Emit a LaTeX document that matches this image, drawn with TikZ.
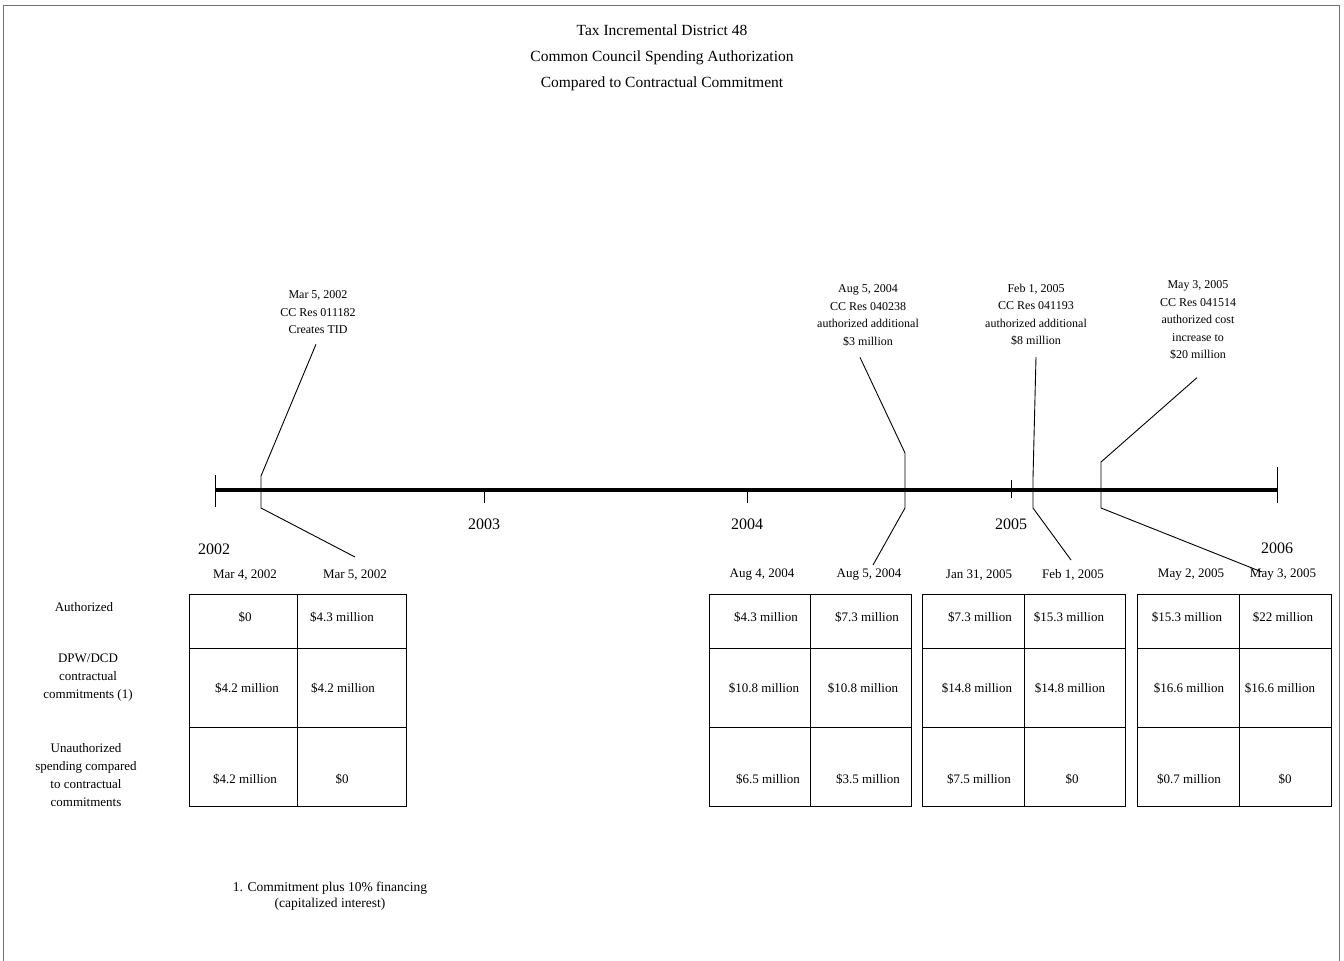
\documentclass[tikz,border=0pt]{standalone}
\usepackage{fontspec}
\setmainfont{Liberation Serif}
\usetikzlibrary{positioning}

\begin{document}
\begin{tikzpicture}[
    x=1pt, y=-1pt,
    small/.style={font=\fontsize{12}{17.5}\selectfont, align=center, inner sep=0pt},
    cell/.style={font=\fontsize{13}{18}\selectfont, align=center, inner sep=0pt},
    year/.style={font=\fontsize{16}{18}\selectfont, inner sep=0pt},
    lead/.style={line width=0.9pt},
    tick/.style={line width=1pt},
    grid/.style={line width=0.85pt},
    axis/.style={line width=3.6pt}
]
    \useasboundingbox (0,0) rectangle (1344,961);
    % Frame
    \draw[black!55, line width=0.8pt] (3,961) -- (3,5) -- (1339,5) -- (1339,961);

    % Title
    \node[font=\fontsize{15.5}{26}\selectfont, align=center] (title) at (662,58)
        {Tax Incremental District 48\\Common Council Spending Authorization\\Compared to Contractual Commitment};

    % Timeline
    \coordinate (t0) at (215,490);
    \coordinate (t1) at (1277,490);
    \draw[tick] (215,475) -- (215,507);
    \draw[tick] (1277,467) -- (1277,503);
    \draw[tick] (484,490) -- (484,503);
    \draw[tick] (747,490) -- (747,503);
    \draw[tick] (1011,480) -- (1011,498);

    \node[year] (y2002) at (214,549) {2002};
    \node[year] (y2003) at (484,524) {2003};
    \node[year] (y2004) at (747,524) {2004};
    \node[year] (y2005) at (1011,524) {2005};
    \node[year] (y2006) at (1277,548) {2006};

    % Resolutions
    \node[small] (c1) at (318,312.5) {Mar 5, 2002\\CC Res 011182\\Creates TID};
    \node[small] (c2) at (868,315.5) {Aug 5, 2004\\CC Res 040238\\authorized additional\\\$3 million};
    \node[small] (c3) at (1036,315) {Feb 1, 2005\\CC Res 041193\\authorized additional\\\$8 million};
    \node[small] (c4) at (1198,320) {May 3, 2005\\CC Res 041514\\authorized cost\\increase to\\\$20 million};

    \coordinate (k1a) at (261,476);  \coordinate (k1b) at (261,508);  \coordinate (e1) at (355,557);
    \coordinate (k2a) at (905,453);  \coordinate (k2b) at (905,508);  \coordinate (e2) at (873,565);
    \coordinate (k3a) at (1033,478); \coordinate (k3b) at (1033,508); \coordinate (e3) at (1071,560);
    \coordinate (k4a) at (1101,462); \coordinate (k4b) at (1101,508); \coordinate (e4) at (1262,572);

    \draw[lead] (c1.south) ++(-2,10) -- (k1a) -- (k1b) -- (e1);
    \draw[lead] (c2.south) ++(-8,11) -- (k2a) -- (k2b) -- (e2);
    \draw[lead] (c3.south) ++(0,11) -- (k3a) -- (k3b) -- (e3);
    \draw[lead] (c4.south) ++(-1,18) -- (k4a) -- (k4b) -- (e4);

    \draw[axis] (t0) -- (t1);

    % Dates
    \foreach \x/\d [count=\i] in {245/{Mar 4, 2002}, 355/{Mar 5, 2002}, 762/{Aug 4, 2004}, 869/{Aug 5, 2004},
                                  979/{Jan 31, 2005}, 1073/{Feb 1, 2005}, 1191/{May 2, 2005}, 1283/{May 3, 2005}}
        \node[cell] (d\i) at (\x,575) {\d};

    % Row labels
    \node[cell] (auth) at (84,607) {Authorized};
    \node[cell] (dpw) at (88,678) {DPW/DCD\\contractual\\commitments (1)};
    \node[cell] (unauth) at (86,775) {Unauthorized\\spending compared\\to contractual\\commitments};

    % Tables
    \foreach \xa/\xm/\xb in {189/297/406, 709/810/911, 922/1024/1125, 1137/1239/1331} {
        \draw[grid] (\xa,594) rectangle (\xb,806);
        \draw[grid] (\xa,648) -- (\xb,648);
        \draw[grid] (\xa,727) -- (\xb,727);
        \draw[grid] (\xm,594) -- (\xm,806);
    }

    % Values
    \foreach \xa/\xb/\xc/\ra/\rb/\rc [count=\i] in {
        245/247/245/\$0/\$4.2 million/\$4.2 million,
        342/343/342/\$4.3 million/\$4.2 million/\$0,
        766/764/768/\$4.3 million/\$10.8 million/\$6.5 million,
        867/863/868/\$7.3 million/\$10.8 million/\$3.5 million,
        980/977/979/\$7.3 million/\$14.8 million/\$7.5 million,
        1069/1070/1072/\$15.3 million/\$14.8 million/\$0,
        1187/1189/1189/\$15.3 million/\$16.6 million/\$0.7 million,
        1283/1280/1285/\$22 million/\$16.6 million/\$0} {
        \node[cell] (auth-\i) at (\xa,617) {\ra};
        \node[cell] (dpw-\i) at (\xb,688) {\rb};
        \node[cell] (unauth-\i) at (\xc,779) {\rc};
    }

    % Footnote
    \node[cell, font=\fontsize{13.5}{15.5}\selectfont] (note) at (330,896)
        {1. Commitment plus 10\% financing\\(capitalized interest)};
\end{tikzpicture}
\end{document}
